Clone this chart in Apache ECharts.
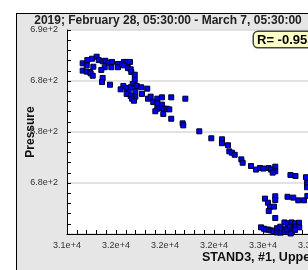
<!DOCTYPE html>
<html>
<head>
<meta charset="utf-8">
<script src="https://cdn.jsdelivr.net/npm/echarts@6/dist/echarts.min.js"></script>
<style>html,body{margin:0;padding:0;background:#fff}#c{width:308px;height:270px}</style>
</head>
<body>
<div id="c"></div>
<script>
const chartTitle = "2019; February 28, 05:30:00 - March 7, 05:30:00";
const xAxisName = "STAND3, #1, Upper Work Roll";
const yAxisName = "Pressure";
const corrLabel = "R= -0.953";
const xTicks = {min: 31200, max: 33600, interval: 400};
const yTicks = {min: 675, max: 687, interval: 3};
const pressureX = [31328,31361,31366,31404,31442,31459,31415,31328,31361,31388,31393,31410,31491,31513,31508,31480,31540,31567,31562,31616,31616,31649,31665,31687,31714,31665,31698,31720,31725,31753,31491,31486,31551,31753,31736,31769,31807,31855,31660,31638,31687,31720,31758,31704,31687,31812,31720,31758,31731,31747,31861,31883,31904,31937,31975,31937,31975,31959,31937,31921,31992,32014,32035,31986,32051,32166,32051,32144,32149,32280,32378,32465,32465,32514,32525,32547,32569,32623,32634,32702,32743,32775,32802,32846,32865,32900,32900,32879,33024,33065,33151,33159,33159,32816,32841,32857,32847,32890,32900,32900,33000,33047,33088,33135,33162,32900,32975,33004,33033,33061,33094,32784,32808,32824,32845,32865,32886,32914,32944,32977,32977,32998,33020,33047,33037,33069,33026,33096,33061,32914,32941];
const pressureY = [685.04,684.92,685.23,685.31,685.43,685.23,684.84,684.61,684.55,684.53,684.45,684.31,685.16,685.19,684.81,684.65,685.08,685.12,684.81,685.00,684.81,685.00,685.12,685.12,685.12,684.92,684.76,684.69,684.53,684.37,684.18,683.94,683.78,684.06,683.82,683.71,683.63,683.55,683.71,683.51,683.59,683.63,683.39,683.35,683.24,683.24,683.12,683.08,682.96,682.84,682.96,683.08,682.76,682.96,683.04,682.69,682.61,682.41,682.37,682.22,682.37,682.37,682.33,682.06,683.04,682.96,681.78,681.51,681.39,681.04,680.63,680.57,680.34,680.22,679.86,679.78,679.66,679.39,679.19,679.00,678.79,678.88,678.85,678.88,678.79,678.96,678.69,678.61,678.47,678.41,678.34,678.00,677.75,677.08,676.84,676.59,676.35,676.61,677.22,677.00,677.19,677.14,676.98,676.98,677.24,675.94,675.68,675.63,675.68,675.63,675.66,675.39,675.31,675.26,675.26,675.21,675.18,675.09,675.08,675.31,675.12,675.26,675.43,675.31,675.16,675.43,675.03,675.39,675.24,675.34,675.43];

const points = pressureX.map((x, i) => [x, pressureY[i]]);
const fmt = v => Number(v).toExponential(1);
const font = "'Liberation Sans', Arial, sans-serif";

const chart = echarts.init(document.getElementById('c'), null, {renderer: 'canvas'});
chart.setOption({
  backgroundColor: '#e6e6e6',
  animation: false,
  textStyle: {fontFamily: font},
  grid: {left: 67, top: 30, width: 294, height: 204, show: true, backgroundColor: '#ffffff', borderWidth: 0, containLabel: false, outerBoundsMode: 'none'},
  xAxis: {
    type: 'value', min: xTicks.min, max: xTicks.max, interval: xTicks.interval,
    axisLine: {show: true, onZero: false, lineStyle: {color: '#000', width: 1}},
    axisTick: {show: true, inside: true, length: 4, lineStyle: {color: '#000'}},
    minorTick: {show: true, splitNumber: 5, length: 4, lineStyle: {color: '#000'}},
    splitLine: {show: false},
    axisLabel: {formatter: fmt, fontSize: 9, color: '#333', margin: 7, fontFamily: font}
  },
  yAxis: {
    type: 'value', min: yTicks.min, max: yTicks.max, interval: yTicks.interval,
    name: yAxisName, nameLocation: 'middle', nameGap: 30, nameMoveOverlap: false,
    nameTextStyle: {fontSize: 12, fontWeight: 'bold', color: '#111', fontFamily: font},
    axisLine: {show: true, lineStyle: {color: '#000', width: 1}},
    axisTick: {show: true, inside: true, length: 4, lineStyle: {color: '#000'}},
    minorTick: {show: true, splitNumber: 5, length: 4, lineStyle: {color: '#000'}},
    splitLine: {show: true, lineStyle: {color: '#d8d8d8', width: 1.5}},
    axisLabel: {formatter: fmt, fontSize: 9, color: '#333', margin: 9, showMinLabel: false, fontFamily: font}
  },
  series: [{
    type: 'scatter', data: points, symbol: 'rect', symbolSize: 5,
    itemStyle: {color: '#0000f0', borderColor: '#000030', borderWidth: 1, opacity: 1}
  }],
  graphic: [
    {type: 'rect', shape: {x: 0, y: 0, width: 16, height: 270}, style: {fill: '#fff'}, silent: true},
    {type: 'rect', shape: {x: 0, y: 0, width: 308, height: 13}, style: {fill: '#fff'}, silent: true},
    {type: 'line', shape: {x1: 16.5, y1: 13, x2: 16.5, y2: 270}, style: {stroke: '#000', lineWidth: 1}, silent: true},
    {type: 'line', shape: {x1: 16, y1: 13.5, x2: 308, y2: 13.5}, style: {stroke: '#000', lineWidth: 1}, silent: true},
    {type: 'text', x: 168, y: 21, style: {text: chartTitle, font: "bold 12px " + font, fill: '#222', textAlign: 'center', textVerticalAlign: 'middle'}, silent: true},
    {type: 'text', x: 202, y: 258, style: {text: xAxisName, font: "bold 12.5px " + font, fill: '#111', textAlign: 'left', textVerticalAlign: 'middle'}, silent: true},
    {type: 'text', x: 254, y: 32, z: 100, style: {text: corrLabel, font: "bold 13px " + font, fill: '#000', backgroundColor: '#ffffc8', borderColor: '#444', borderWidth: 1.5, borderRadius: 4, padding: [2, 4, 0, 3], textAlign: 'left', textVerticalAlign: 'top'}, silent: true}
  ]
});
</script>
</body>
</html>
